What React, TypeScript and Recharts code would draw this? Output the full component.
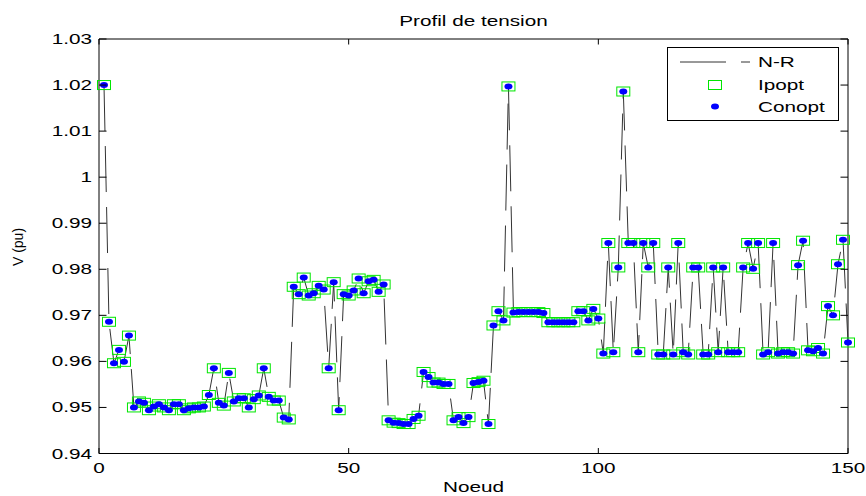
import React from 'react';
import { ComposedChart, Line, Scatter, XAxis, YAxis, Legend, ReferenceArea, Label } from 'recharts';

// ---------- data ----------
const nodes: number[] = Array.from({ length: 150 }, (_, i) => i + 1);

const voltageNR: number[] = [
  1.020, 0.9686, 0.9596, 0.9625, 0.9599, 0.9656, 0.9500, 0.9513, 0.9510, 0.9494,
  0.9502, 0.9507, 0.9500, 0.9494, 0.9507, 0.9507, 0.9494, 0.9498, 0.9500, 0.9500,
  0.9502, 0.9527, 0.9585, 0.9510, 0.9504, 0.9575, 0.9513, 0.9520, 0.9520, 0.9500,
  0.9518, 0.9526, 0.9585, 0.9523, 0.9515, 0.9515, 0.9478, 0.9474, 0.9762, 0.9746,
  0.9782, 0.9743, 0.9748, 0.9764, 0.9756, 0.9585, 0.9772, 0.9494, 0.9746, 0.9743,
  0.9754, 0.9780, 0.9748, 0.9774, 0.9777, 0.9751, 0.9767, 0.9472, 0.9467, 0.9466,
  0.9464, 0.9464, 0.9475, 0.9482, 0.9577, 0.9566, 0.9554, 0.9554, 0.9551, 0.9551,
  0.9472, 0.9479, 0.9466, 0.9479, 0.9553, 0.9555, 0.9558, 0.9464, 0.9678, 0.9709,
  0.9689, 1.0197, 0.9706, 0.9707, 0.9707, 0.9707, 0.9707, 0.9707, 0.9705, 0.9685,
  0.9685, 0.9685, 0.9685, 0.9685, 0.9685, 0.9709, 0.9709, 0.9689, 0.9714, 0.9693,
  0.9617, 0.9857, 0.9620, 0.9804, 1.0186, 0.9857, 0.9857, 0.9620, 0.9857, 0.9804,
  0.9857, 0.9615, 0.9615, 0.9804, 0.9615, 0.9857, 0.9620, 0.9615, 0.9804, 0.9804,
  0.9615, 0.9615, 0.9804, 0.9620, 0.9804, 0.9620, 0.9620, 0.9620, 0.9804, 0.9857,
  0.9801, 0.9857, 0.9615, 0.9620, 0.9857, 0.9617, 0.9620, 0.9620, 0.9617, 0.9809,
  0.9862, 0.9624, 0.9622, 0.9629, 0.9617, 0.9720, 0.9700, 0.9811, 0.9864, 0.9641,
];
const voltageIpopt: number[] = voltageNR;
const voltageConopt: number[] = voltageNR;

const xTicks: number[] = [0, 50, 100, 150];
const yTicks: number[] = [0.94, 0.95, 0.96, 0.97, 0.98, 0.99, 1, 1.01, 1.02, 1.03];

const seriesNames = { nr: 'N-R', ipopt: 'Ipopt', conopt: 'Conopt' };
const titleText = 'Profil de tension';
const xLabelText = 'Noeud';
const yLabelText = 'V (pu)';

const data = nodes.map((n, i) => ({
  node: n,
  nr: voltageNR[i],
  ipopt: voltageIpopt[i],
  conopt: voltageConopt[i],
}));

// ---------- layout / style ----------
const CHART_W = 866;
const CHART_H = 496;
const PLOT_LEFT = 99;
const PLOT_RIGHT = 848;
const PLOT_TOP = 39;
const PLOT_BOTTOM = 453.5;
const SX = 1.48;
const FONT = '"Liberation Sans", Arial, sans-serif';
const GREEN = '#00e600';
const BLUE = '#0000ff';
const LINE_COLOR = '#333333';
const DASH = '46 15';

const StretchText = ({ x, y, anchor, children, size = 14 }: any) => (
  <g transform={`translate(${x},${y}) scale(${SX},1)`}>
    <text x={0} y={0} textAnchor={anchor} fontSize={size} fontFamily={FONT} fill="#000">
      {children}
    </text>
  </g>
);

const fmtY = (v: number) => String(Number(v.toFixed(2)));

const XTick = (props: any) => {
  const { x, payload } = props;
  return (
    <g>
      <line x1={x} x2={x} y1={PLOT_BOTTOM} y2={PLOT_BOTTOM - 5.5} stroke="#000" strokeWidth={1} />
      <line x1={x} x2={x} y1={PLOT_TOP} y2={PLOT_TOP + 5.5} stroke="#000" strokeWidth={1} />
      <StretchText x={x} y={473} anchor="middle">{payload.value}</StretchText>
    </g>
  );
};

const YTick = (props: any) => {
  const { y, payload } = props;
  return (
    <g>
      <line x1={PLOT_LEFT} x2={PLOT_LEFT + 7.5} y1={y} y2={y} stroke="#000" strokeWidth={1} />
      <line x1={PLOT_RIGHT} x2={PLOT_RIGHT - 7.5} y1={y} y2={y} stroke="#000" strokeWidth={1} />
      <StretchText x={92} y={y + 5} anchor="end">{fmtY(payload.value)}</StretchText>
    </g>
  );
};

const SquareShape = (p: any) => (
  <rect x={p.cx - 6.5} y={p.cy - 4.5} width={13} height={9} fill="none" stroke={GREEN} strokeWidth={1} />
);
const DotShape = (p: any) => <ellipse cx={p.cx} cy={p.cy} rx={4} ry={3} fill={BLUE} />;

const XLabels = () => (
  <g>
    <StretchText x={(PLOT_LEFT + PLOT_RIGHT) / 2} y={492} anchor="middle">{xLabelText}</StretchText>
    <StretchText x={(PLOT_LEFT + PLOT_RIGHT) / 2} y={25.5} anchor="middle">{titleText}</StretchText>
  </g>
);

const YLabel = () => (
  <text
    transform={`translate(23,247) rotate(-90)`}
    textAnchor="middle"
    fontSize={14}
    fontFamily={FONT}
    fill="#000"
  >
    {yLabelText}
  </text>
);

const LEG_W = 172;
const LEG_H = 74;
const LegendBox = () => (
  <svg width={LEG_W} height={LEG_H} style={{ display: 'block' }}>
    <rect x={0.5} y={0.5} width={LEG_W - 1} height={LEG_H - 1} fill="#fff" stroke="#000" strokeWidth={1} />
    <line x1={13} x2={83} y1={15} y2={15} stroke={LINE_COLOR} strokeWidth={1} strokeDasharray={DASH} />
    <rect x={48 - 6.5} y={38 - 4.5} width={13} height={9} fill="none" stroke={GREEN} strokeWidth={1} />
    <ellipse cx={48} cy={59.5} rx={4} ry={3} fill={BLUE} />
    <StretchText x={91} y={20} anchor="start">{seriesNames.nr}</StretchText>
    <StretchText x={91} y={43} anchor="start">{seriesNames.ipopt}</StretchText>
    <StretchText x={91} y={65} anchor="start">{seriesNames.conopt}</StretchText>
  </svg>
);

export default function App() {
  return (
    <div style={{ position: 'absolute', left: 0, top: 0, width: CHART_W, height: CHART_H, background: '#fff' }}>
      <ComposedChart
        width={CHART_W}
        height={CHART_H}
        data={data}
        margin={{ top: PLOT_TOP, right: CHART_W - PLOT_RIGHT, bottom: 0, left: 0 }}
      >
        <XAxis
          dataKey="node"
          type="number"
          domain={[0, 150]}
          ticks={xTicks}
          interval={0}
          height={CHART_H - PLOT_BOTTOM}
          axisLine={false}
          tickLine={false}
          tick={<XTick />}
        >
          <Label content={<XLabels />} />
        </XAxis>
        <YAxis
          type="number"
          domain={[0.94, 1.03]}
          ticks={yTicks}
          interval={0}
          width={PLOT_LEFT}
          axisLine={false}
          tickLine={false}
          tick={<YTick />}
        >
          <Label content={<YLabel />} />
        </YAxis>
        <ReferenceArea x1={0} x2={150} y1={0.94} y2={1.03} fill="none" stroke="#000" strokeWidth={1} fillOpacity={0} />
        <Line
          dataKey="nr"
          name={seriesNames.nr}
          type="linear"
          stroke={LINE_COLOR}
          strokeWidth={1}
          strokeDasharray={DASH}
          dot={false}
          activeDot={false}
          isAnimationActive={false}
        />
        <Scatter dataKey="ipopt" name={seriesNames.ipopt} shape={SquareShape} isAnimationActive={false} />
        <Scatter dataKey="conopt" name={seriesNames.conopt} shape={DotShape} isAnimationActive={false} />
        <Legend
          layout="horizontal"
          verticalAlign="middle"
          align="center"
          content={<LegendBox />}
          wrapperStyle={{ position: 'absolute', left: 667, top: 47, width: LEG_W, height: LEG_H }}
        />
      </ComposedChart>
    </div>
  );
}
